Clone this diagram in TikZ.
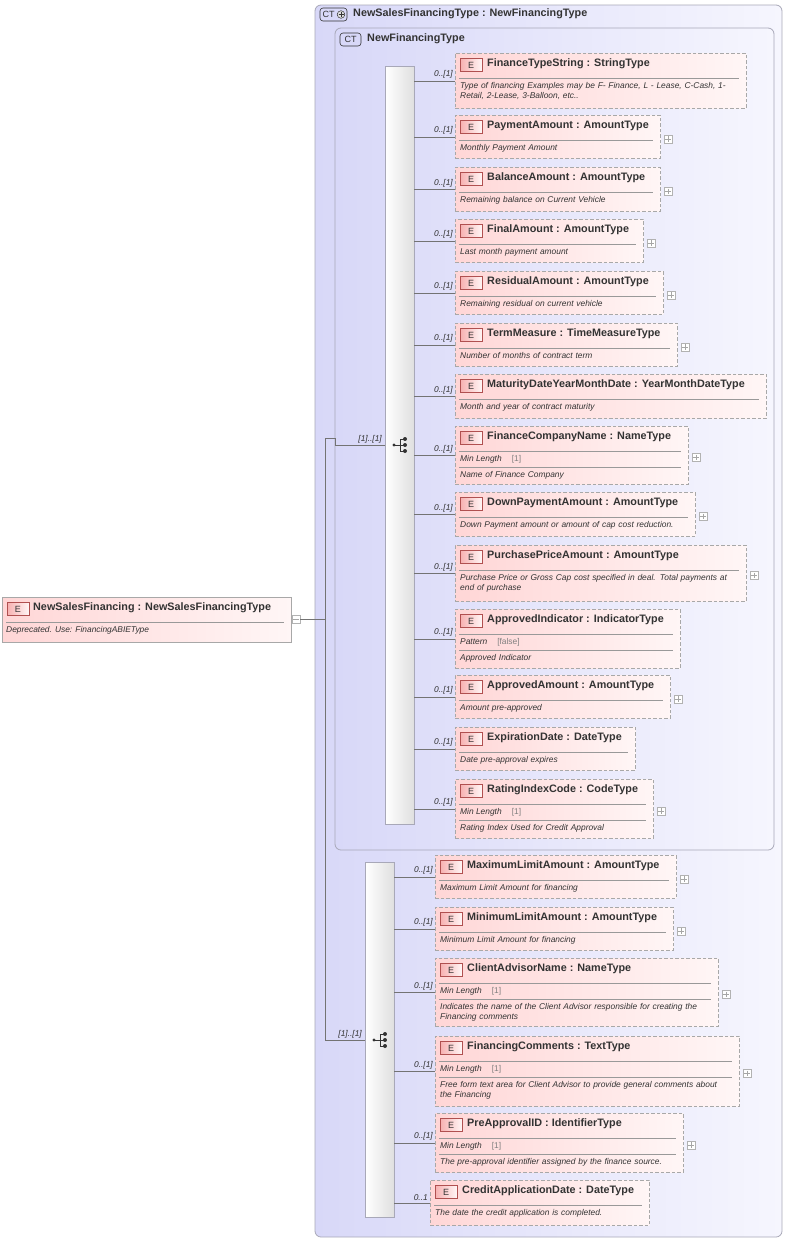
\documentclass[tikz,border=0pt]{standalone}
\usepackage{fontspec}
\setmainfont{Liberation Sans}
\definecolor{ctL}{HTML}{D8D8F8}
\definecolor{ctR}{HTML}{F6F6FE}
\definecolor{ctB}{HTML}{A8A8B8}
\definecolor{eL}{HTML}{FFD6D6}
\definecolor{eR}{HTML}{FFF6F6}
\definecolor{eB}{HTML}{A8A8A8}
\definecolor{bdL}{HTML}{F7B0B0}
\definecolor{bdB}{HTML}{B05050}
\definecolor{txt}{HTML}{333333}
\begin{document}
\begin{tikzpicture}[x=1pt,y=-1pt,
  ctbox/.style={draw=ctB,rounded corners=6pt,left color=ctL,right color=ctR,line width=0.8pt},
  ctbadge/.style={draw=txt,rounded corners=3pt,fill=ctL,line width=0.6pt},
  cttitle/.style={font=\bfseries\fontsize{10.8}{12}\selectfont,text=txt,inner sep=0pt},
  seqbar/.style={draw=ctB,left color=white,right color=gray!25,inner sep=0pt},
  ebox/.style={draw=eB,dash pattern=on 3.5pt off 2pt,left color=eL,right color=eR,inner sep=0pt,line width=0.8pt},
  ebadge/.style={draw=bdB,left color=bdL,right color=eR,font=\fontsize{9}{10}\selectfont,inner sep=0pt,minimum width=22pt,minimum height=13pt,text=txt},
  etitle/.style={font=\bfseries\fontsize{10.8}{12}\selectfont,text=txt,inner sep=0pt},
  edesc/.style={font=\itshape\fontsize{8.4}{10}\selectfont,text=txt,inner sep=0pt,align=left},
  efacet/.style={font=\fontsize{8.4}{9}\selectfont,text=txt,inner sep=0pt},
  sep/.style={draw=gray!80,line width=0.5pt},
  pbox/.style={draw=gray!60,fill=white,minimum size=8pt,inner sep=0pt},
  conn/.style={draw=gray!90!black,line width=0.6pt},
  mult/.style={font=\itshape\fontsize{8.4}{9}\selectfont,text=txt,inner sep=1pt}]
\useasboundingbox (0,0) rectangle (787,1240);
\fill[white] (0,0) rectangle (787,1240);
\hyphenpenalty=10000 \exhyphenpenalty=10000

\newcommand\elem[9]{%
 \pgfmathsetmacro\ew{#4-#2}\pgfmathsetmacro\eh{#5-#3}\pgfmathsetmacro\tw{#4-#2-8}%
 \node[ebox,anchor=north west,minimum width=\ew pt,minimum height=\eh pt] (#1) at (#2,#3) {};
 \node[ebadge] at ([shift={(16,12)}]#1.north west) {E};
 \node[etitle,anchor=west] at ([shift={(32,11)}]#1.north west) {#6};
 \draw[sep] ([shift={(4,25)}]#1.north west) -- ([shift={(-8,25)}]#1.north east);
 \def\tmpf{#7}%
 \ifx\tmpf\empty
   \node[edesc,text width=\tw pt,anchor=north west] at ([shift={(5,29)}]#1.north west) {\hyphenpenalty=10000 #8};
 \else
   \node[efacet,anchor=west] at ([shift={(5,33)}]#1.north west) {#7};
   \draw[sep] ([shift={(4,41)}]#1.north west) -- ([shift={(-8,41)}]#1.north east);
   \node[edesc,text width=\tw pt,anchor=north west] at ([shift={(5,45)}]#1.north west) {\hyphenpenalty=10000 #8};
 \fi
 \def\tmpp{#9}%
 \ifx\tmpp\empty\else
   \node[pbox] (#1p) at ([shift={(7,2)}]#1.east) {};
   \draw[gray!70,line width=0.5pt] ([xshift=1.5pt]#1p.west) -- ([xshift=-1.5pt]#1p.east)
        ([yshift=-1.5pt]#1p.north) -- ([yshift=1.5pt]#1p.south);
 \fi
 \draw[conn] (\curbar.east |- #1.west) -- (#1.west);
 \node[mult,anchor=south east] at ([shift={(-1,-1)}]#1.west) {\curmult};
}
\newcommand\ml{\textit{Min Length}\hspace{10pt}{\color{gray}[1]}}
\newcommand\seqicon[2]{%
 \fill[txt] (#1-7,#2) circle (1.6pt);
 \draw[txt,line width=0.8pt] (#1-7,#2) -- (#1+4,#2) (#1-1,#2-6) -- (#1-1,#2+6)
   (#1-1,#2-6) -- (#1+4,#2-6) (#1-1,#2+6) -- (#1+4,#2+6);
 \fill[txt] (#1+4,#2-6) circle (2pt) (#1+4,#2) circle (2pt) (#1+4,#2+6) circle (2pt);
}

% CT boxes
\draw[ctbox] (315,5) rectangle (782,1237);
\draw[ctbadge] (320,8) rectangle (347,21);
\node[font=\fontsize{9}{10}\selectfont,text=txt,inner sep=0pt] at (328.5,14.5) {CT};
\draw[txt,fill=gray!25,line width=0.5pt] (341,14.5) circle (3.8pt);
\draw[txt,line width=0.9pt] (338.5,14.5) -- (343.5,14.5) (341,12) -- (341,17);
\node[cttitle,anchor=west] at (353,14) {NewSalesFinancingType : NewFinancingType};
\draw[ctbox] (335,28) rectangle (774,850);
\draw[ctbadge] (340,33) rectangle (361,46);
\node[font=\fontsize{9}{10}\selectfont,text=txt,inner sep=0pt] at (350.5,39.5) {CT};
\node[cttitle,anchor=west] at (367,39) {NewFinancingType};

% sequence bars
\node[seqbar,anchor=north west,minimum width=29pt,minimum height=758pt] (seqA) at (385,66) {};
\node[seqbar,anchor=north west,minimum width=29pt,minimum height=355pt] (seqB) at (365,862) {};
\seqicon{401}{445}
\seqicon{381}{1040}

% main element
\node[ebox,solid,anchor=north west,minimum width=289pt,minimum height=45pt] (main) at (2,597) {};
\node[ebadge] at ([shift={(16,12)}]main.north west) {E};
\node[etitle,anchor=west] at ([shift={(31,11)}]main.north west) {NewSalesFinancing : NewSalesFinancingType};
\draw[sep] ([shift={(4,25)}]main.north west) -- ([shift={(-8,25)}]main.north east);
\node[edesc,anchor=north west] at ([shift={(4,29)}]main.north west) {Deprecated. Use: FinancingABIEType};
\node[pbox] (mainp) at (296,619) {};
\draw[gray!70,line width=0.5pt] ([xshift=1.5pt]mainp.west) -- ([xshift=-1.5pt]mainp.east);
\coordinate (j) at (325,619);
\coordinate (jt) at (325,438);
\coordinate (jb) at (325,1040);
\coordinate (jt2) at (335,438);
\draw[conn] (mainp.east) -- (j);
\draw[conn] (jt) -- (jb);
\draw[conn] (jt) -- (jt2) -- (jt2 |- seqA.west) -- (seqA.west);
\draw[conn] (jb) -- (jb -| seqB.west);
\node[mult,anchor=south east] at (383,444) {[1]..[1]};
\node[mult,anchor=south east] at (363,1039) {[1]..[1]};

\def\curbar{seqA}\def\curmult{0..[1]}
\elem{e1}{455}{53}{746}{108}{FinanceTypeString : StringType}{}{Type of financing Examples may be F- Finance, L - Lease, C-Cash, 1-\newline Retail, 2-Lease, 3-Balloon, etc..}{}
\elem{e2}{455}{115}{660}{158}{PaymentAmount : AmountType}{}{Monthly Payment Amount}{p}
\elem{e3}{455}{167}{660}{211}{BalanceAmount : AmountType}{}{Remaining balance on Current Vehicle}{p}
\elem{e4}{455}{219}{643}{262}{FinalAmount : AmountType}{}{Last month payment amount}{p}
\elem{e5}{455}{271}{663}{314}{ResidualAmount : AmountType}{}{Remaining residual on current vehicle}{p}
\elem{e6}{455}{323}{677}{366}{TermMeasure : TimeMeasureType}{}{Number of months of contract term}{p}
\elem{e7}{455}{374}{766}{418}{MaturityDateYearMonthDate : YearMonthDateType}{}{Month and year of contract maturity}{}
\elem{e8}{455}{426}{688}{484}{FinanceCompanyName : NameType}{\ml}{Name of Finance Company}{p}
\elem{e9}{455}{492}{695}{536}{DownPaymentAmount : AmountType}{}{Down Payment amount or amount of cap cost reduction.}{p}
\elem{e10}{455}{545}{746}{601}{PurchasePriceAmount : AmountType}{}{Purchase Price or Gross Cap cost specified in deal. Total payments at\newline end of purchase}{p}
\elem{e11}{455}{609}{680}{668}{ApprovedIndicator : IndicatorType}{\textit{Pattern}\hspace{10pt}{\color{gray}[false]}}{Approved Indicator}{}
\elem{e12}{455}{675}{670}{718}{ApprovedAmount : AmountType}{}{Amount pre-approved}{p}
\elem{e13}{455}{727}{635}{770}{ExpirationDate : DateType}{}{Date pre-approval expires}{}
\elem{e14}{455}{779}{653}{838}{RatingIndexCode : CodeType}{\ml}{Rating Index Used for Credit Approval}{p}

\def\curbar{seqB}
\elem{f1}{435}{855}{676}{898}{MaximumLimitAmount : AmountType}{}{Maximum Limit Amount for financing}{p}
\elem{f2}{435}{907}{673}{950}{MinimumLimitAmount : AmountType}{}{Minimum Limit Amount for financing}{p}
\elem{f3}{435}{958}{718}{1026}{ClientAdvisorName : NameType}{\ml}{Indicates the name of the Client Advisor responsible for creating the\newline Financing comments}{p}
\elem{f4}{435}{1036}{739}{1106}{FinancingComments : TextType}{\ml}{Free form text area for Client Advisor to provide general comments about\newline the Financing}{p}
\elem{f5}{435}{1113}{683}{1172}{PreApprovalID : IdentifierType}{\ml}{The pre-approval identifier assigned by the finance source.}{p}
\def\curmult{0..1}
\elem{f6}{430}{1180}{649}{1225}{CreditApplicationDate : DateType}{}{The date the credit application is completed.}{}
\end{tikzpicture}
\end{document}
